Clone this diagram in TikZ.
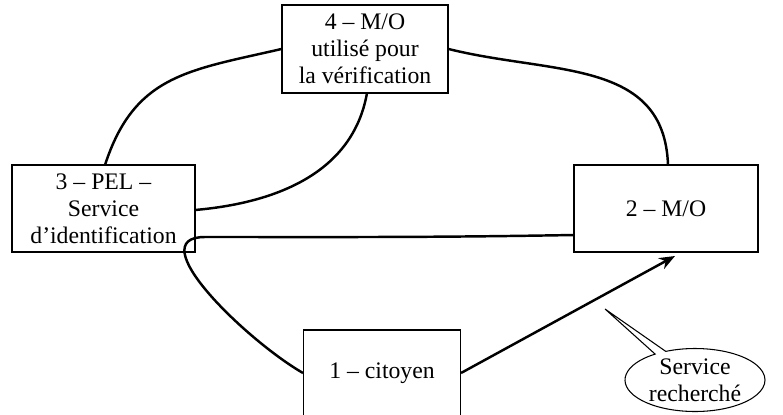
\documentclass[tikz,border=0pt]{standalone}
\usepackage{fontspec}
\setmainfont{Liberation Serif}
\usetikzlibrary{shapes.callouts,arrows.meta}
\begin{document}
\begin{tikzpicture}[
		x = 0.02cm, y = -0.02cm,
		bx/.style   = {draw, line width=0.6pt, align=center, font=\fontsize{13.5}{15.5}\selectfont, inner sep=0pt},
		lnk/.style  = {line width=1.4pt},
		bubble/.style = {ellipse callout, draw, line width=0.6pt, align=center,
			font=\fontsize{13.5}{15.5}\selectfont, inner sep=0pt, minimum width=140*0.02cm, minimum height=63*0.02cm,
			callout pointer arc=10}
		]
		\useasboundingbox (0,0) rectangle (783,415);
		
		\node[bx, minimum width=166*0.02cm, minimum height=88*0.02cm] (b4) at (365, 49)   {4 -- M/O\\ utilisé pour\\ la vérification};
		\node[bx, minimum width=183*0.02cm, minimum height=87*0.02cm] (b3) at (103.5, 208.5) {3 -- PEL --\\ Service\\ d'identification};
		\node[bx, minimum width=184*0.02cm, minimum height=87*0.02cm] (b2) at (666, 208.5) {2 -- M/O};
		\node[bx, minimum width=157*0.02cm, minimum height=86*0.02cm] (b1) at (382, 373)   {1 -- citoyen};
		
		\coordinate (tip) at (605, 309);
		\node[bubble, callout absolute pointer={(tip)}] (srch) at (695, 380) {Service\\ recherché};
		
		\coordinate (b3top) at (105, 165);
		\coordinate (b2top) at (668, 165);
		\coordinate (b4bot) at (367, 93);
		\coordinate (b3r)   at (195, 210);
		\coordinate (b2l)   at (574, 235);
		\coordinate (kink)  at (205, 237);
		\coordinate (arrend) at (675, 256);
		
		\draw[lnk] (b3top) to[out=72, in=193, looseness=1.15] (b4.west);
		\draw[lnk] (b4.east) to[out=-14, in=92, looseness=1.1] (b2top);
		\draw[lnk] (b4bot) to[out=-100, in=5] (b3r);
		\draw[lnk] (b2l) to[out=181, in=0] (kink) to[out=180, in=150] (b1.west);
		\draw[lnk, -{Stealth[length=9pt, width=7pt]}] (b1.east) -- (arrend);
	\end{tikzpicture}
\end{document}
